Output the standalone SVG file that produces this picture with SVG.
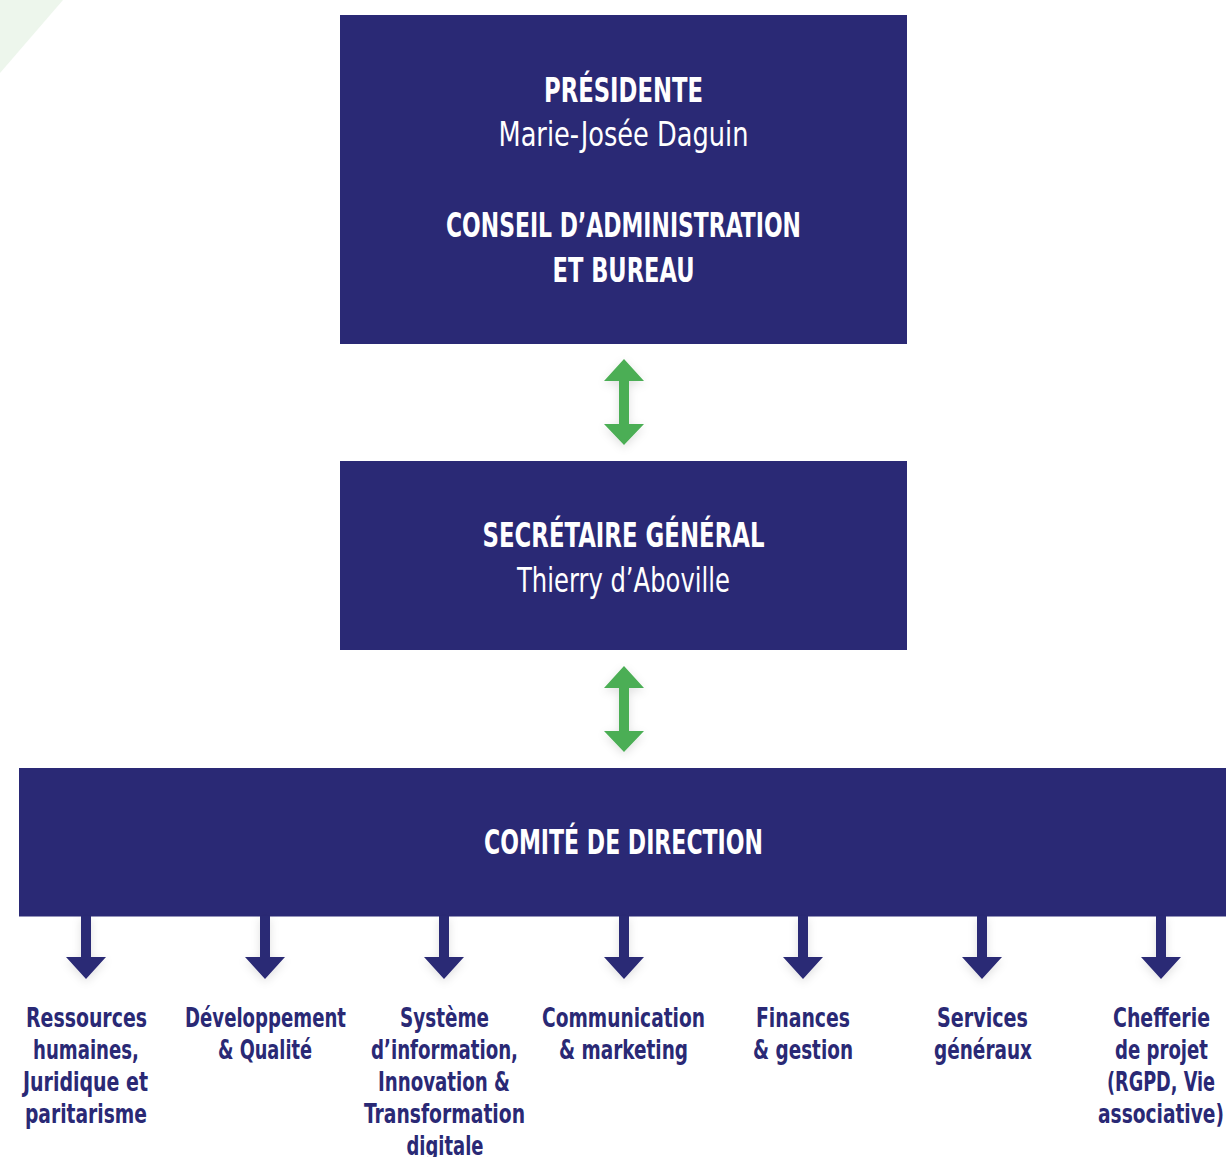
<svg xmlns="http://www.w3.org/2000/svg" width="1226" height="1157" viewBox="0 0 1226 1157">
<style>
.box{fill:#2a2975}
.t{font-family:"Liberation Sans Narrow","DejaVu Sans Condensed","Liberation Sans",sans-serif;font-stretch:condensed;text-anchor:middle}
.h{fill:#ffffff;font-size:33px;font-weight:bold}
.n{fill:#ffffff;font-size:33px;font-weight:normal}
.l{fill:#2a2975;font-size:27px;font-weight:bold}
.g{fill:#4bae54}
.d{fill:#2a2975}
</style>
<defs>
<filter id="sh" x="-50%" y="-50%" width="200%" height="200%">
<feDropShadow dx="0" dy="3" stdDeviation="5" flood-color="#000" flood-opacity="0.12"/>
</filter>
</defs>
<polygon points="0,0 63,0 0,73" fill="#edf6ec"/>
<g id="node-presidente">
<rect class="box" x="340" y="15" width="567" height="329"/>
<text class="t h" x="623.5" y="102" textLength="159" lengthAdjust="spacingAndGlyphs">PRÉSIDENTE</text>
<text class="t n" x="623.5" y="146" textLength="250" lengthAdjust="spacingAndGlyphs">Marie-Josée Daguin</text>
<text class="t h" x="623.5" y="237" textLength="355" lengthAdjust="spacingAndGlyphs">CONSEIL D’ADMINISTRATION</text>
<text class="t h" x="623.5" y="282" textLength="142" lengthAdjust="spacingAndGlyphs">ET BUREAU</text>
</g>
<g id="node-secretaire">
<rect class="box" x="340" y="461" width="567" height="189"/>
<text class="t h" x="623.5" y="547" textLength="282" lengthAdjust="spacingAndGlyphs">SECRÉTAIRE GÉNÉRAL</text>
<text class="t n" x="623.5" y="592" textLength="213" lengthAdjust="spacingAndGlyphs">Thierry d’Aboville</text>
</g>
<g id="node-comite">
<rect class="box" x="19" y="768" width="1207" height="148.5"/>
<text class="t h" x="623.5" y="854" textLength="279" lengthAdjust="spacingAndGlyphs">COMITÉ DE DIRECTION</text>
</g>
<g id="connectors">
<g filter="url(#sh)">
<polygon class="g" points="624,359 644,381 629,381 629,424 644,424 624,445 604,424 619,424 619,381 604,381"/>
<polygon class="g" points="624,666 644,688 629,688 629,731 644,731 624,752 604,731 619,731 619,688 604,688"/>
</g>
<g filter="url(#sh)">
<polygon class="d" points="81,916 91,916 91,957 106,957 86,979 66,957 81,957"/>
<polygon class="d" points="260,916 270,916 270,957 285,957 265,979 245,957 260,957"/>
<polygon class="d" points="439,916 449,916 449,957 464,957 444,979 424,957 439,957"/>
<polygon class="d" points="619,916 629,916 629,957 644,957 624,979 604,957 619,957"/>
<polygon class="d" points="798,916 808,916 808,957 823,957 803,979 783,957 798,957"/>
<polygon class="d" points="977,916 987,916 987,957 1002,957 982,979 962,957 977,957"/>
<polygon class="d" points="1156,916 1166,916 1166,957 1181,957 1161,979 1141,957 1156,957"/>
</g>
</g>
<g id="node-rh">
<text class="t l" x="86.5" y="1027" textLength="121" lengthAdjust="spacingAndGlyphs">Ressources</text>
<text class="t l" x="86" y="1059" textLength="106" lengthAdjust="spacingAndGlyphs">humaines,</text>
<text class="t l" x="85.5" y="1091" textLength="125" lengthAdjust="spacingAndGlyphs">Juridique et</text>
<text class="t l" x="86" y="1123" textLength="122" lengthAdjust="spacingAndGlyphs">paritarisme</text>
</g>
<g id="node-dev">
<text class="t l" x="265.5" y="1027" textLength="161" lengthAdjust="spacingAndGlyphs">Développement</text>
<text class="t l" x="265" y="1059" textLength="94" lengthAdjust="spacingAndGlyphs">&amp; Qualité</text>
</g>
<g id="node-si">
<text class="t l" x="444.5" y="1027" textLength="89" lengthAdjust="spacingAndGlyphs">Système</text>
<text class="t l" x="444.5" y="1059" textLength="147" lengthAdjust="spacingAndGlyphs">d’information,</text>
<text class="t l" x="444" y="1091" textLength="132" lengthAdjust="spacingAndGlyphs">Innovation &amp;</text>
<text class="t l" x="444.5" y="1123" textLength="161" lengthAdjust="spacingAndGlyphs">Transformation</text>
<text class="t l" x="445" y="1155" textLength="77" lengthAdjust="spacingAndGlyphs">digitale</text>
</g>
<g id="node-com">
<text class="t l" x="623.5" y="1027" textLength="163" lengthAdjust="spacingAndGlyphs">Communication</text>
<text class="t l" x="623.5" y="1059" textLength="129" lengthAdjust="spacingAndGlyphs">&amp; marketing</text>
</g>
<g id="node-fin">
<text class="t l" x="803" y="1027" textLength="94" lengthAdjust="spacingAndGlyphs">Finances</text>
<text class="t l" x="803" y="1059" textLength="100" lengthAdjust="spacingAndGlyphs">&amp; gestion</text>
</g>
<g id="node-sg">
<text class="t l" x="982.5" y="1027" textLength="91" lengthAdjust="spacingAndGlyphs">Services</text>
<text class="t l" x="983" y="1059" textLength="98" lengthAdjust="spacingAndGlyphs">généraux</text>
</g>
<g id="node-cp">
<text class="t l" x="1161.5" y="1027" textLength="97" lengthAdjust="spacingAndGlyphs">Chefferie</text>
<text class="t l" x="1161.5" y="1059" textLength="93" lengthAdjust="spacingAndGlyphs">de projet</text>
<text class="t l" x="1161" y="1091" textLength="108" lengthAdjust="spacingAndGlyphs">(RGPD, Vie</text>
<text class="t l" x="1161" y="1123" textLength="126" lengthAdjust="spacingAndGlyphs">associative)</text>
</g>
</svg>
